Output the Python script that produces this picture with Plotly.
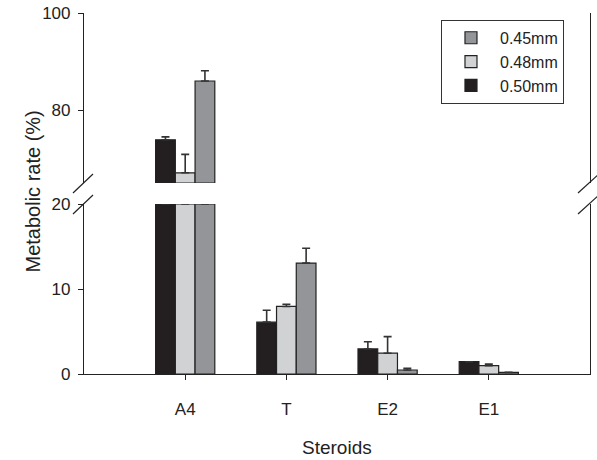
import plotly.graph_objects as go

categories = ["A4", "T", "E2", "E1"]
series_names = ["0.50mm", "0.48mm", "0.45mm"]
values_050 = [73.9, 6.1, 2.95, 1.45]
values_048 = [67.1, 7.95, 2.45, 0.98]
values_045 = [86.0, 13.05, 0.47, 0.19]
err_050 = [0.6, 1.4, 0.85, 0.0]
err_048 = [3.8, 0.25, 1.95, 0.2]
err_045 = [2.1, 1.75, 0.2, 0.0]
colors = ["#231f20", "#d1d2d4", "#939598"]

low_range = [0, 20]
high_range = [65, 100]

values = [values_050, values_048, values_045]
errors = [err_050, err_048, err_045]
xpos = list(range(len(categories)))

fig = go.Figure()
fam = "Liberation Sans, Arial, sans-serif"
font = dict(family=fam, size=17, color="#222")

for name, vals, errs, col in zip(series_names, values, errors, colors):
    low_y = [min(v, low_range[1]) for v in vals]
    low_err = [e if v < low_range[1] else 0 for v, e in zip(vals, errs)]
    fig.add_trace(go.Bar(
        x=xpos, y=low_y, name=name, marker=dict(color=col, line=dict(color="#222", width=1.2)),
        error_y=dict(type="data", symmetric=False, array=low_err, arrayminus=[0]*len(vals),
                     color="#333", thickness=1.6, width=4),
        xaxis="x", yaxis="y", offsetgroup=name, legendgroup=name))
    hi_y = [v - high_range[0] if v > high_range[0] else None for v in vals]
    hi_err = [e if v > high_range[0] else 0 for v, e in zip(vals, errs)]
    fig.add_trace(go.Bar(
        x=xpos, y=hi_y, base=high_range[0], name=name, showlegend=False,
        marker=dict(color=col, line=dict(color="#222", width=1.2)),
        error_y=dict(type="data", symmetric=False, array=hi_err, arrayminus=[0]*len(vals),
                     color="#333", thickness=1.6, width=4),
        xaxis="x2", yaxis="y2", offsetgroup=name, legendgroup=name))

H = 361.0
low_top = 170 / H
high_bot = 191 / H

axis_common = dict(showline=True, linecolor="#222", linewidth=1.2, ticks="outside",
                   ticklen=5, tickcolor="#222", tickwidth=1.2, showgrid=False, zeroline=False,
                   tickfont=font, automargin=False)

fig.update_layout(
    width=597, height=460,
    margin=dict(l=84, r=7, t=13, b=86),
    paper_bgcolor="white", plot_bgcolor="white",
    barmode="group", bargap=0.415, bargroupgap=0,
    font=font,
    xaxis=dict(range=[-1, 4], tickvals=xpos, ticktext=categories, anchor="y",
               ticklabelstandoff=14, **axis_common),
    xaxis2=dict(range=[-1, 4], matches="x", anchor="y2", visible=False),
    yaxis=dict(range=low_range, domain=[0, low_top], tickvals=[0, 10, 20], mirror=True,
               anchor="x", ticklabelstandoff=4, **axis_common),
    yaxis2=dict(range=high_range, domain=[high_bot, 1], tickvals=[80, 100], mirror=True,
                anchor="x2", ticklabelstandoff=4, **axis_common),
    legend=dict(x=0.7055, y=0.981, xanchor="left", yanchor="top", bgcolor="white",
                bordercolor="#333", borderwidth=1, traceorder="reversed",
                font=dict(family=fam, size=16, color="#222"), itemwidth=48),
    showlegend=True,
)

fig.add_annotation(text="Metabolic rate (%)", textangle=-90, xref="paper", yref="paper",
                   x=0, y=0.5, xshift=-65, yshift=2, showarrow=False,
                   font=dict(family=fam, size=20, color="#222"))
fig.add_annotation(text="Steroids", xref="paper", yref="paper", x=0.5, y=0,
                   yanchor="middle", yshift=-73, showarrow=False,
                   font=dict(family=fam, size=19, color="#222"))

# axis break marks
brk = dict(type="line", line=dict(color="#222", width=1.2), xref="paper", yref="paper",
           xsizemode="pixel", ysizemode="pixel")
for xa, xs in [(0, (-11, 9)), (1, (-12, 9))]:
    fig.add_shape(**brk, xanchor=xa, x0=xs[0], x1=xs[1], yanchor=low_top, y0=-10, y1=9)
    fig.add_shape(**brk, xanchor=xa, x0=xs[0], x1=xs[1], yanchor=high_bot, y0=-10, y1=9)

fig.write_html("out.html", config={"displayModeBar": False},
               post_script="document.body.style.margin='0';")
